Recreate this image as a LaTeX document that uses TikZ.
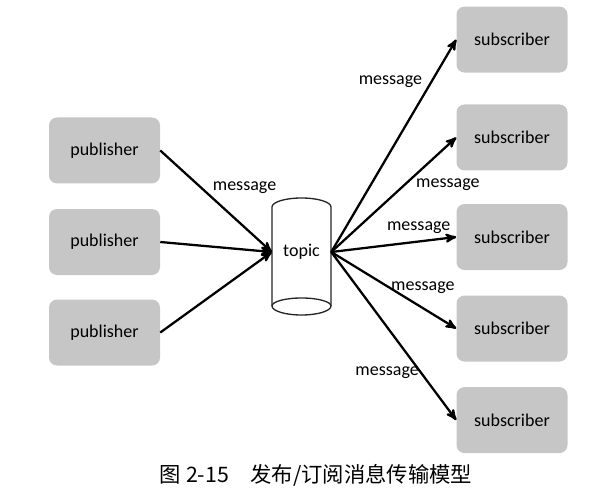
\documentclass[tikz,border=0pt]{standalone}
\usepackage{fontspec}
\setmainfont{Carlito}
\newfontfamily\cjk{Noto Sans CJK SC}
\usepackage{tikz}
\usetikzlibrary{arrows,positioning}
\definecolor{boxgray}{RGB}{198,198,198}
\tikzset{
    %Define standard arrow tip
    >=stealth',
    % Define arrow style
    pil/.style={
           ->,
           line width=1.7pt,}
}

\begin{document}
\begin{tikzpicture}[
x=0.75pt, y=-0.75pt,
every node/.style={font=\fontsize{13.5}{16}\selectfont},
boxnode/.style={rectangle, rounded corners=6pt, fill=boxgray,
    minimum width=83.25pt, minimum height=49.5pt},
msg/.style={inner sep=1pt},
cyl/.style={draw=black!85, line width=1pt},
]
\useasboundingbox (0,0) rectangle (597,503);

%Nodes
\node[boxnode](P2) at (104.5,242){publisher};
\node[boxnode](P1)[above=18.75pt of P2]{publisher};
\node[boxnode](P3)[below=18pt of P2]{publisher};

\node[boxnode](S3) at (512,237){subscriber};
\node[boxnode](S2)[above=24.75pt of S3]{subscriber};
\node[boxnode](S1)[above=23.5pt of S2]{subscriber};
\node[boxnode](S4)[below=18.75pt of S3]{subscriber};
\node[boxnode](S5)[below=18.75pt of S4]{subscriber};

%Topic
\draw[cyl] (272,207) arc[start angle=180, end angle=360, x radius=29.5, y radius=9]
    -- (331,306) arc[start angle=0, end angle=180, x radius=29.5, y radius=9] -- cycle;
\draw[cyl] (272,306) arc[start angle=180, end angle=360, x radius=29.5, y radius=8];
\node[minimum width=44.25pt, inner sep=0pt](topic) at (301.5,252){topic};

%Arrows
\draw[pil] (P1.east) -- node[msg, pos=0.45, anchor=south west]{message} (topic.west);
\draw[pil] (P2.east) -- (topic.west);
\draw[pil] (P3.east) -- (topic.west);

\draw[pil] (topic.east) -- node[msg, pos=0.8, left=5pt]{message} (S1.west);
\draw[pil] (topic.east) -- node[msg, pos=0.66, anchor=north west]{message} (S2.west);
\draw[pil] (topic.east) -- node[msg, pos=0.70, above=4pt]{message} (S3.west);
\draw[pil] (topic.east) -- node[msg, pos=0.46, anchor=west]{message} (S4.west);
\draw[pil] (topic.east) -- node[msg, pos=0.72, anchor=east]{message} (S5.west);

%Caption
\node[font=\cjk\fontsize{16}{18}\selectfont](caption) at (316,475){图 2-15\quad 发布/订阅消息传输模型};

\end{tikzpicture}
\end{document}
